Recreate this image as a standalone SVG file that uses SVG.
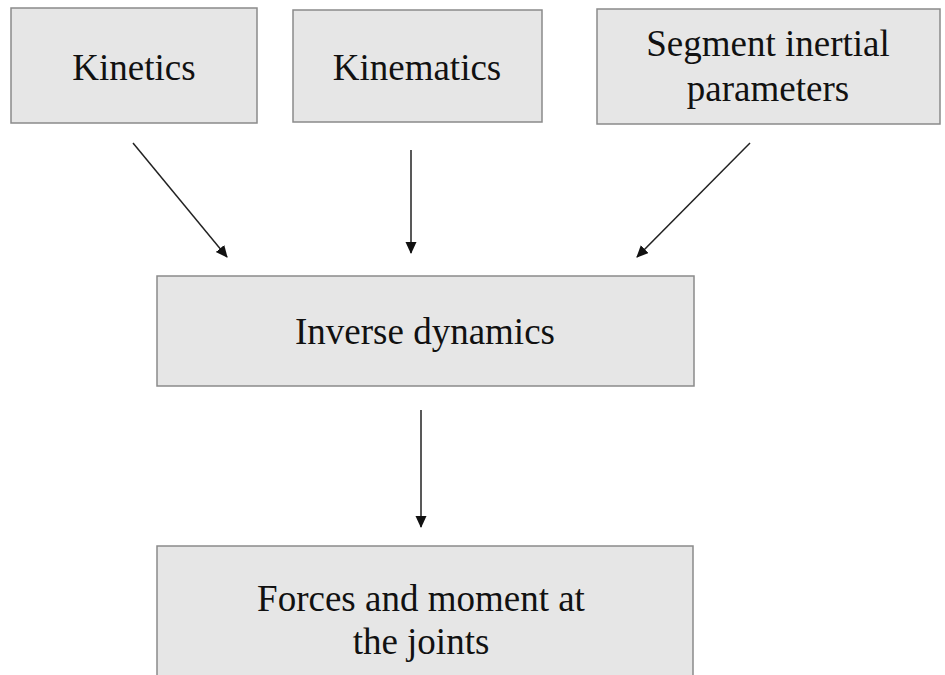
<svg xmlns="http://www.w3.org/2000/svg" width="945" height="675" viewBox="0 0 945 675">
<style>
.box{fill:#e6e6e6;stroke:#8a8a8a;stroke-width:1.5}
.t{font-family:"Liberation Serif","Times New Roman",serif;font-size:37px;fill:#111;text-anchor:middle}
.c{stroke:#222;stroke-width:1.5;fill:none;marker-end:url(#ah)}
</style>
<defs>
<marker id="ah" markerWidth="12" markerHeight="12" refX="11" refY="5.5" orient="auto" markerUnits="userSpaceOnUse">
<path d="M0,0 L12,5.5 L0,11 Z" fill="#111"/>
</marker>
</defs>
<rect width="945" height="675" fill="#fff"/>
<g id="kinetics"><rect class="box" x="11" y="8" width="246" height="115"/><text class="t" x="134" y="80">Kinetics</text></g>
<g id="kinematics"><rect class="box" x="293" y="10" width="249" height="112"/><text class="t" x="417" y="80">Kinematics</text></g>
<g id="segment"><rect class="box" x="597" y="9" width="343" height="115"/><text class="t" x="768" y="56">Segment inertial</text><text class="t" x="768" y="101">parameters</text></g>
<g id="inverse"><rect class="box" x="157" y="276" width="537" height="110"/><text class="t" x="425" y="344">Inverse dynamics</text></g>
<g id="forces"><rect class="box" x="157" y="546" width="536" height="140"/><text class="t" x="421" y="611">Forces and moment at</text><text class="t" x="421" y="654">the joints</text></g>
<g id="connectors">
<line class="c" x1="133" y1="143" x2="227" y2="257"/>
<line class="c" x1="411" y1="150" x2="411" y2="253"/>
<line class="c" x1="750" y1="143" x2="637" y2="257"/>
<line class="c" x1="421" y1="410" x2="421" y2="527"/>
</g>
</svg>
